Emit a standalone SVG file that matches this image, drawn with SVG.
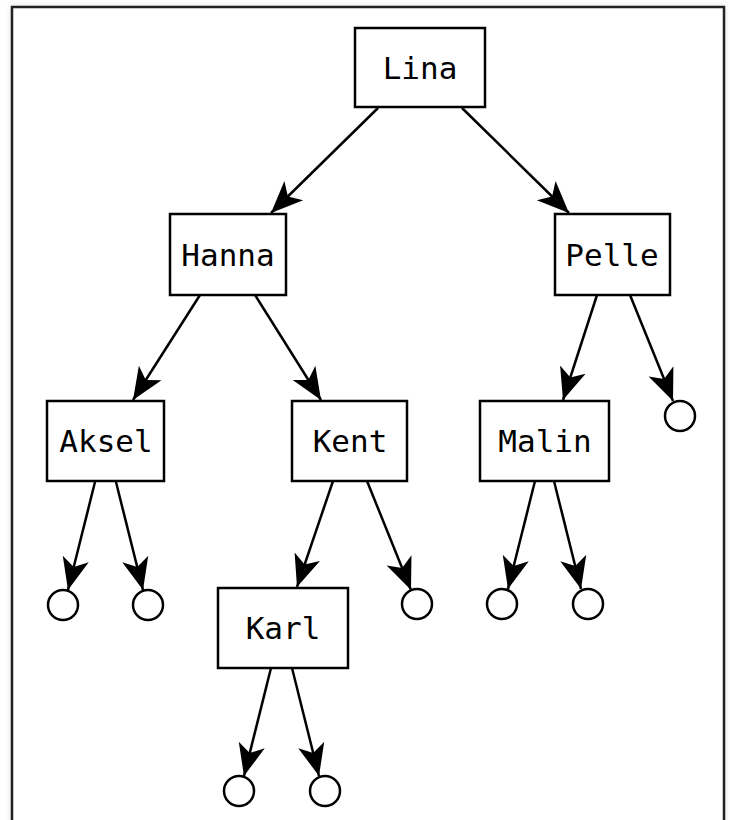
<svg xmlns="http://www.w3.org/2000/svg" width="730" height="820" viewBox="0 0 730 820">
<defs>
<style>
.node rect{fill:#fff;stroke:#000;stroke-width:2.5}
.node text{font-family:"DejaVu Sans Mono","Liberation Mono",monospace;font-size:31px;fill:#000;text-anchor:middle;dominant-baseline:central}
.leaf{fill:#fff;stroke:#000;stroke-width:2.5}
.edge{stroke:#000;stroke-width:2.5;fill:none;marker-end:url(#ah)}
</style>
<marker id="ah" markerUnits="userSpaceOnUse" markerWidth="34" markerHeight="30" viewBox="-31 -14 33 28" refX="0" refY="0" orient="auto">
<path d="M0,0 L-31,-13 L-23,0 L-31,13 Z" fill="#000"/>
</marker>
<filter id="sh" x="-5%" y="-5%" width="110%" height="110%"><feGaussianBlur stdDeviation="3"/></filter>
</defs>
<rect x="12" y="7" width="712" height="830" fill="#999" opacity="0.5" filter="url(#sh)"/>
<rect x="12" y="7" width="712" height="830" fill="#fff" stroke="#222" stroke-width="2.5"/>
<g id="connectors">
<line class="edge" x1="378" y1="108" x2="271" y2="213"/>
<line class="edge" x1="462" y1="108" x2="569" y2="213"/>
<line class="edge" x1="200" y1="295" x2="133" y2="400"/>
<line class="edge" x1="255" y1="295" x2="321" y2="400"/>
<line class="edge" x1="597" y1="295" x2="563" y2="400"/>
<line class="edge" x1="630" y1="295" x2="673" y2="401"/>
<line class="edge" x1="95" y1="482" x2="68" y2="590"/>
<line class="edge" x1="116" y1="482" x2="143" y2="590"/>
<line class="edge" x1="333" y1="481" x2="297" y2="587"/>
<line class="edge" x1="367" y1="481" x2="411" y2="590"/>
<line class="edge" x1="535" y1="481" x2="508" y2="589"/>
<line class="edge" x1="554" y1="481" x2="581" y2="589"/>
<line class="edge" x1="271" y1="668" x2="244" y2="776"/>
<line class="edge" x1="292" y1="668" x2="319" y2="776"/>
</g>
<g id="Lina" class="node"><rect x="355" y="28" width="130" height="79"/><text x="420" y="68">Lina</text></g>
<g id="Hanna" class="node"><rect x="170" y="214" width="116" height="81"/><text x="228" y="255">Hanna</text></g>
<g id="Pelle" class="node"><rect x="555" y="214" width="115" height="81"/><text x="612" y="255">Pelle</text></g>
<g id="Aksel" class="node"><rect x="47" y="401" width="117" height="80"/><text x="106" y="441">Aksel</text></g>
<g id="Kent" class="node"><rect x="292" y="401" width="115" height="80"/><text x="350" y="441">Kent</text></g>
<g id="Malin" class="node"><rect x="480" y="401" width="129" height="80"/><text x="545" y="441">Malin</text></g>
<g id="Karl" class="node"><rect x="218" y="588" width="130" height="80"/><text x="283" y="628">Karl</text></g>
<g id="leaf1"><circle class="leaf" cx="63" cy="605" r="15"/></g>
<g id="leaf2"><circle class="leaf" cx="148" cy="605" r="15"/></g>
<g id="leaf3"><circle class="leaf" cx="417" cy="604" r="15"/></g>
<g id="leaf4"><circle class="leaf" cx="502" cy="604" r="15"/></g>
<g id="leaf5"><circle class="leaf" cx="588" cy="604" r="15"/></g>
<g id="leaf6"><circle class="leaf" cx="680" cy="416" r="15"/></g>
<g id="leaf7"><circle class="leaf" cx="239" cy="791" r="15"/></g>
<g id="leaf8"><circle class="leaf" cx="325" cy="791" r="15"/></g>
</svg>
